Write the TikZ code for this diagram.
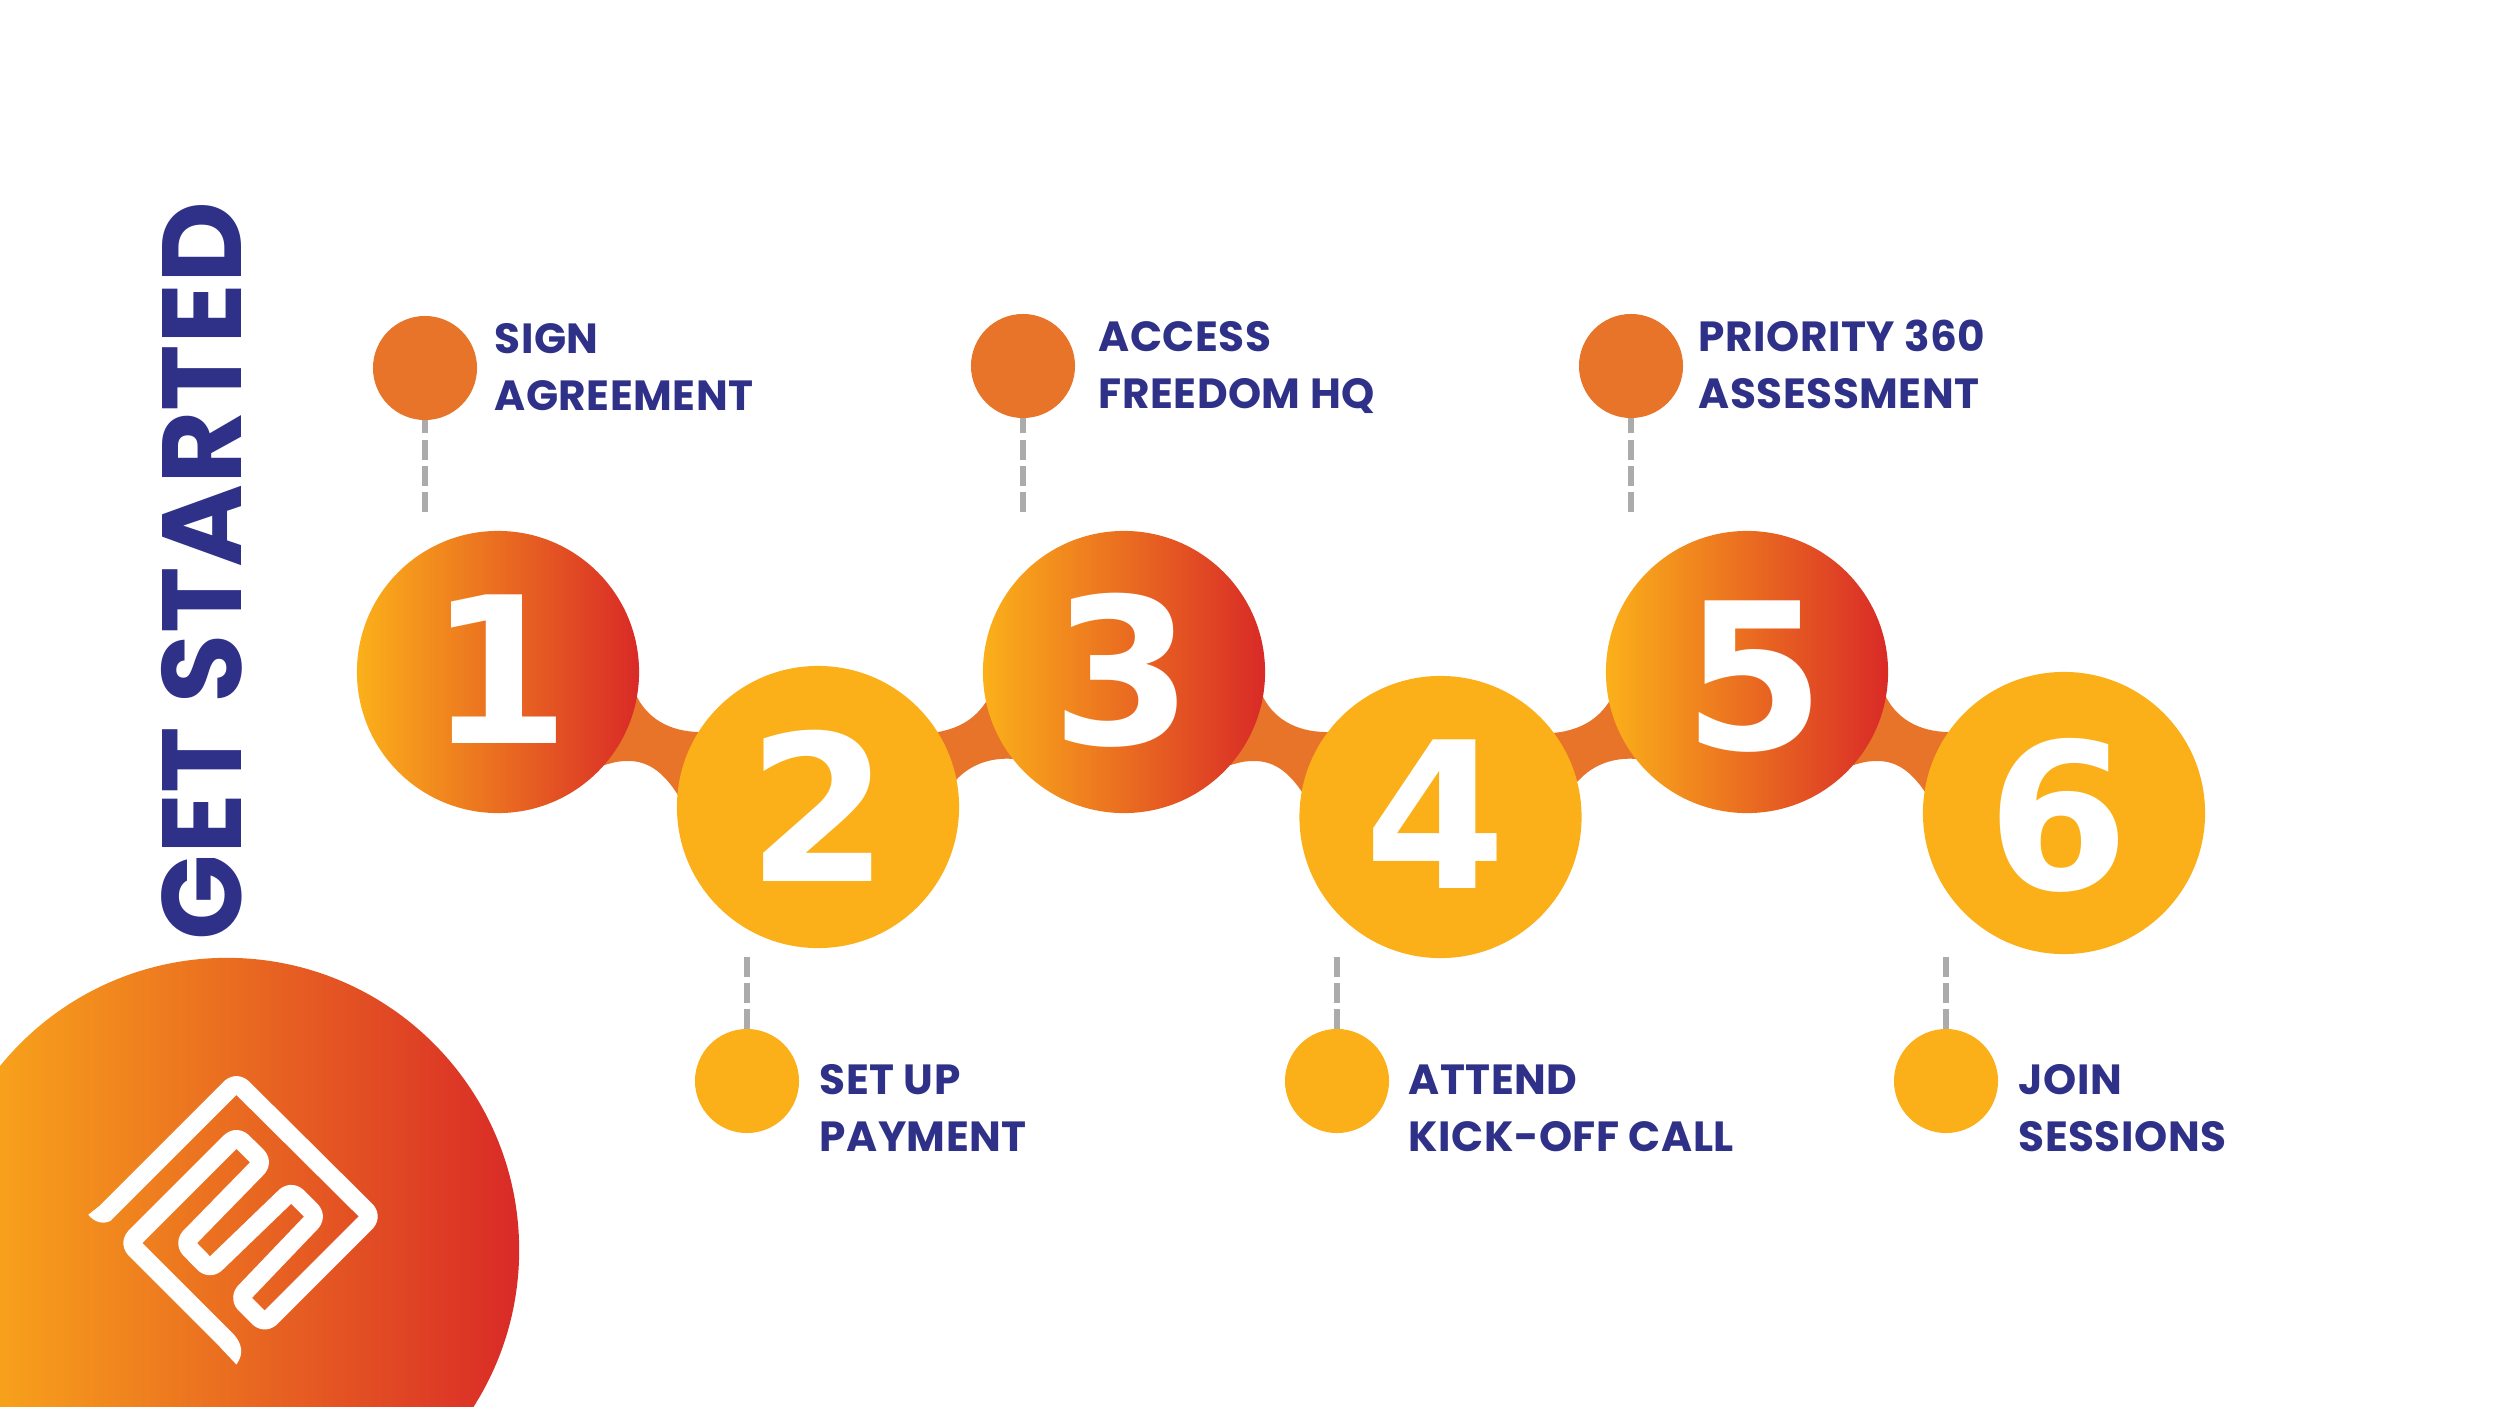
\documentclass[tikz,border=0pt]{standalone}
\usepackage{fontspec}
\usetikzlibrary{calc}
\newfontfamily\labelfont[LetterSpace=1.2]{Poppins}
\newfontfamily\titlefont{Poppins}
\newfontfamily\digitfont{DejaVu Sans}
\definecolor{navy}{HTML}{2E3187}
\definecolor{sunny}{HTML}{FBB01A}
\definecolor{amber}{HTML}{E8742A}
\definecolor{brick}{HTML}{D92A27}
\definecolor{dashgrey}{HTML}{ABABAB}
\pgfdeclarelayer{back}
\pgfsetlayers{back,main}
\tikzset{
  big/.style={circle,minimum size=2.82cm,inner sep=0pt,outer sep=0pt},
  hot/.style={big,left color=sunny,middle color=amber,right color=brick},
  warm/.style={big,fill=sunny},
  dot/.style={circle,minimum size=1.04cm,inner sep=0pt,outer sep=0pt},
  dash line/.style={draw=dashgrey,line width=0.065cm,dash pattern=on 0.195cm off 0.067cm},
  lbl/.style={anchor=base west,align=left,inner sep=0pt,text=navy,font=\labelfont\bfseries\fontsize{12}{16.2}\selectfont},
  digit/.style={anchor=base,inner sep=0pt,text=white,font=\digitfont\bfseries\fontsize{58}{58}\selectfont},
  blob/.style={fill=amber},
  logo line/.style={draw=white,line width=0.185cm,line join=round,line cap=butt,rounded corners=0.08cm}
}
\newcommand{\blobdown}[1]{%
  \begin{scope}[shift={(#1.center)}]
    \fill[blob] (132,18) -- (139,25) .. controls (152,50) and (177,61) .. (207,60)
      -- (187,128) -- (180,123) .. controls (167,103) and (152,88) .. (128,89)
      .. controls (120,89) and (113,91) .. (100,95) -- cycle;
  \end{scope}}
\newcommand{\blobup}[1]{%
  \begin{scope}[shift={(#1.center)}]
    \fill[blob] (-194,61) -- (-186,60) .. controls (-164,56) and (-146,46) .. (-134,23)
      -- (-94,73) -- (-110,87) .. controls (-134,85) and (-154,93) .. (-168,108) -- (-179,118) -- cycle;
  \end{scope}}
\begin{document}
\begin{tikzpicture}[x=0.01cm,y=-0.01cm]
\useasboundingbox (0,0) rectangle (2500,1406);
% hero disc
\begin{scope}
  \clip (0,0) rectangle (2500,1406);
  \node[circle,minimum size=5.84cm,inner sep=0pt,left color=sunny,middle color=amber,right color=brick] (hero) at (227,1250) {};
\end{scope}
% logo
\begin{scope}[shift={(80,1060)},x=0.003333cm,y=-0.003333cm]
  \draw[logo line] (75,461) -- (470,66) -- (877,470) -- (555,792) -- (478,715) -- (712,470)
    -- (635,393) -- (390,629) -- (313,550) -- (550,307) -- (470,228) -- (148,550) -- (440,842);
  \fill[white] (55,441) -- (25,465) .. controls (45,490) and (75,495) .. (95,481) -- cycle;
  \fill[white] (420,862) -- (470,915) .. controls (495,880) and (485,850) .. (460,822) -- cycle;
\end{scope}
% title
\node[rotate=90,anchor=base,inner sep=0pt,text=navy,font=\titlefont\bfseries\fontsize{32}{32}\selectfont] (title) at (241,571) {GET STARTED};
% step discs
\node[hot]  (n1) at (498,672) {};
\node[warm] (n2) at (818,807) {};
\node[hot]  (n3) at (1124,672) {};
\node[warm] (n4) at (1440.5,817) {};
\node[hot]  (n5) at (1747,672) {};
\node[warm] (n6) at (2064,813) {};
\begin{pgfonlayer}{back}
  \blobdown{n1}\blobup{n3}\blobdown{n3}\blobup{n5}\blobdown{n5}
\end{pgfonlayer}
\node[digit] (d1) at (499,743) {1};
\node[digit] (d2) at (818,881) {2};
\node[digit] (d3) at (1122,744) {3};
\node[digit] (d4) at (1435,888) {4};
\node[digit] (d5) at (1754,749) {5};
\node[digit] (d6) at (2058,889) {6};
% small dots
\node[dot,fill=amber] (a) at (425,368) {};
\node[dot,fill=amber] (b) at (1023,366) {};
\node[dot,fill=amber] (c) at (1631,366) {};
\node[dot,fill=sunny] (e) at (747,1081) {};
\node[dot,fill=sunny] (f) at (1337,1081) {};
\node[dot,fill=sunny] (g) at (1946,1081) {};
\coordinate (ae) at (425,512);
\coordinate (be) at (1023,512);
\coordinate (ce) at (1631,512);
\coordinate (ee) at (747,957);
\coordinate (fe) at (1337,957);
\coordinate (ge) at (1946,957);
\begin{pgfonlayer}{back}
\draw[dash line] (ae) -- (a.center);
\draw[dash line] (be) -- (b.center);
\draw[dash line] (ce) -- (c.center);
\draw[dash line] (ee) -- (e.center);
\draw[dash line] (fe) -- (f.center);
\draw[dash line] (ge) -- (g.center);
\end{pgfonlayer}
% labels
\node[lbl] (la) at (494,410) {SIGN\\AGREEMENT};
\node[lbl] (lb) at (1098,408) {ACCESS\\FREEDOM HQ};
\node[lbl] (lc) at (1698,408) {PRIORITY 360\\ASSESSMENT};
\node[lbl] (le) at (819,1151) {SET UP\\PAYMENT};
\node[lbl] (lf) at (1408,1151) {ATTEND\\KICK-OFF CALL};
\node[lbl] (lg) at (2018,1151) {JOIN\\SESSIONS};
\end{tikzpicture}
\end{document}
